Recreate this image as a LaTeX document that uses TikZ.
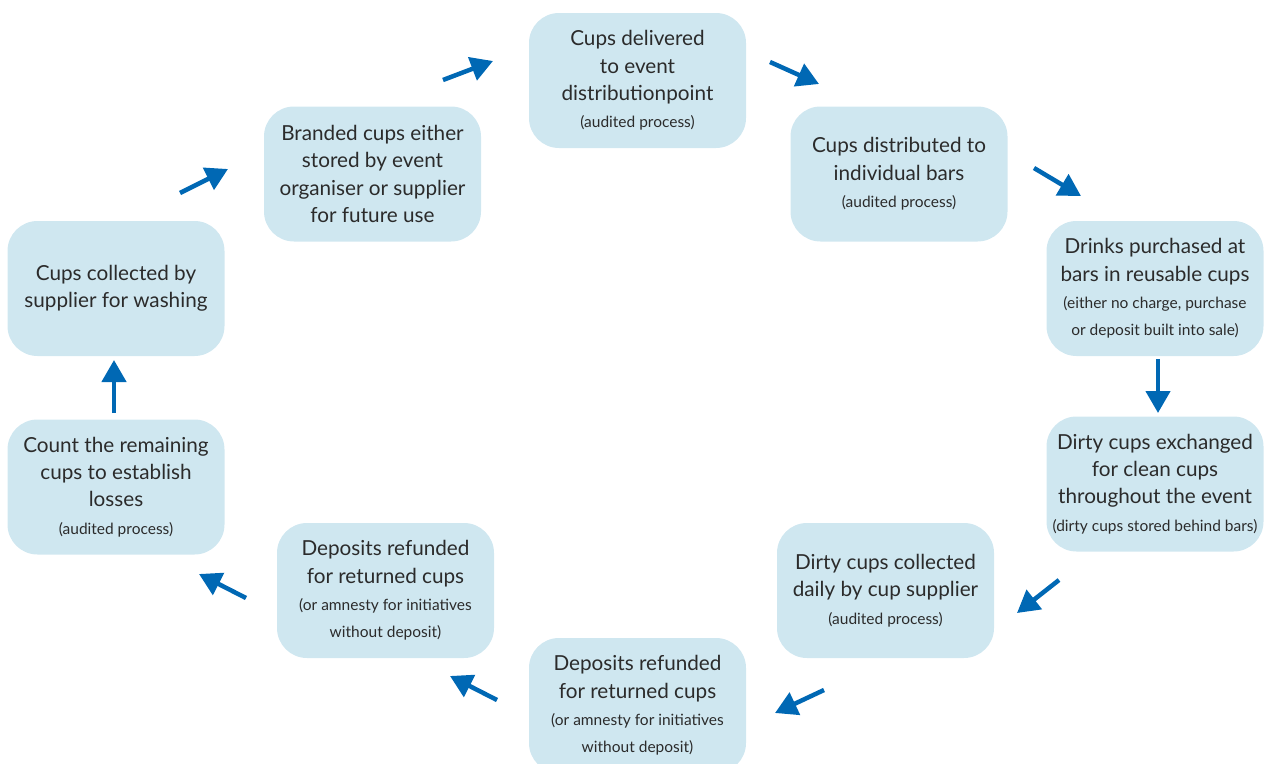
\documentclass[tikz,border=0pt]{standalone}
\usepackage{fontspec}
\setmainfont{Lato}
\usetikzlibrary{arrows.meta}
\definecolor{boxfill}{HTML}{CFE7F0}
\definecolor{arrowblue}{HTML}{0068B4}
\definecolor{txt}{HTML}{2B2B2B}
\newcommand{\smalltxt}{\fontsize{15.5}{27.3}\selectfont}
\begin{document}
\begin{tikzpicture}[x=1pt,y=-1pt,
  stagebox/.style={fill=boxfill, draw=none, rounded corners=30pt,
    minimum width=217pt, minimum height=135pt,
    align=center, inner sep=0pt, text=txt,
    font=\fontsize{20.7}{27.3}\selectfont},
  flow/.style={draw=arrowblue, line width=4.5pt,
    -{Triangle[width=24pt,length=22pt]}}]
\useasboundingbox (0,0) rectangle (1268,763);
\clip (0,0) rectangle (1268,763);

\node[stagebox] (n1) at (637.5,80.5) {Cups delivered\\to event\\distributionpoint\\{\smalltxt (audited process)}};
\node[stagebox] (n2) at (899,174) {Cups distributed to\\individual bars\\{\smalltxt (audited process)}};
\node[stagebox] (n3) at (1155,288.5) {Drinks purchased at\\bars in reusable cups\\{\smalltxt (either no charge, purchase}\\{\smalltxt or deposit built into sale)}};
\node[stagebox] (n4) at (1155,484) {Dirty cups exchanged\\for clean cups\\throughout the event\\{\smalltxt (dirty cups stored behind bars)}};
\node[stagebox] (n5) at (885.5,590.5) {Dirty cups collected\\daily by cup supplier\\{\smalltxt (audited process)}};
\node[stagebox] (n6) at (637.5,705.5) {Deposits refunded\\for returned cups\\{\smalltxt (or amnesty for initiatives}\\{\smalltxt without deposit)}};
\node[stagebox] (n7) at (385.5,590.5) {Deposits refunded\\for returned cups\\{\smalltxt (or amnesty for initiatives}\\{\smalltxt without deposit)}};
\node[stagebox] (n8) at (116,487) {Count the remaining\\cups to establish\\losses\\{\smalltxt (audited process)}};
\node[stagebox] (n9) at (116,288.5) {Cups collected by\\supplier for washing};
\node[stagebox] (n10) at (372.5,174) {Branded cups either\\stored by event\\organiser or supplier\\for future use};

\coordinate (a1s) at (443,80);   \coordinate (a1e) at (493,61);
\coordinate (a2s) at (770,62);   \coordinate (a2e) at (819,84);
\coordinate (a3s) at (1034,168); \coordinate (a3e) at (1081,196);
\coordinate (a4s) at (1158,359); \coordinate (a4e) at (1158,413);
\coordinate (a5s) at (1059,580); \coordinate (a5e) at (1017,613);
\coordinate (a6s) at (824,690);  \coordinate (a6e) at (775,713);
\coordinate (a7s) at (497,700);  \coordinate (a7e) at (450,676);
\coordinate (a8s) at (246,598);  \coordinate (a8e) at (199,574);
\coordinate (a9s) at (114,413);  \coordinate (a9e) at (114,360);
\coordinate (a10s) at (180,193); \coordinate (a10e) at (228,169);

\draw[flow] (a1s) -- (a1e);
\draw[flow] (a2s) -- (a2e);
\draw[flow] (a3s) -- (a3e);
\draw[flow] (a4s) -- (a4e);
\draw[flow] (a5s) -- (a5e);
\draw[flow] (a6s) -- (a6e);
\draw[flow] (a7s) -- (a7e);
\draw[flow] (a8s) -- (a8e);
\draw[flow] (a9s) -- (a9e);
\draw[flow] (a10s) -- (a10e);
\end{tikzpicture}
\end{document}
